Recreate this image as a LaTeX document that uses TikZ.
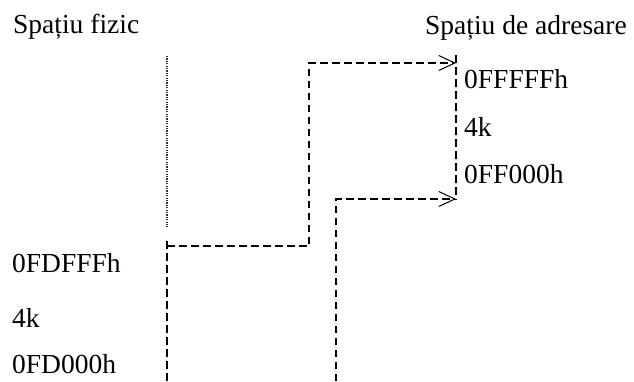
\documentclass[tikz,border=0pt]{standalone}
\usepackage{fontspec}
\setmainfont{Liberation Serif}
\usetikzlibrary{arrows.meta}

\begin{document}
\begin{tikzpicture}[x=1pt, y=-1pt,
  txt/.style={anchor=base west, inner sep=0pt,
              font=\fontsize{27.5}{33}\selectfont},
  link/.style={line width=1.5pt, dash pattern=on 7.5pt off 4.5pt},
  mapto/.style={link, -{Straight Barb[length=16pt, width=15pt, line width=1pt]}},
  bound/.style={line width=1.1pt, black!80, dash pattern=on 1.2pt off 1.2pt},
]
  \useasboundingbox (0,0) rectangle (634,381);

  % Titles
  \node[txt] (fizic) at (13,33) {Spațiu fizic};
  \node[txt] (adr)   at (425,34) {Spațiu de adresare};

  % Physical page labels
  \node[txt] (fTop) at (12,272) {0FDFFFh};
  \node[txt] (fLen) at (12,327) {4k};
  \node[txt] (fBot) at (12,373) {0FD000h};

  % Address window labels
  \node[txt] (aTop) at (464,88)  {0FFFFFh};
  \node[txt] (aLen) at (464,136) {4k};
  \node[txt] (aBot) at (464,183) {0FF000h};

  % Corners of the mapping
  \coordinate (physTop) at (167,246);
  \coordinate (physBot) at (336,381);
  \coordinate (bendTop) at (309,246);
  \coordinate (winTop)  at (456,63);
  \coordinate (winBot)  at (456,199);

  % Region bounds
  \draw[bound] (167,56) -- (167,227);
  \draw[link]  (167,241) -- (167,381);
  \draw[link]  (456,55) -- (456,200);

  % Mapping arrows
  \draw[mapto] (physTop) -- (bendTop) |- (winTop);
  \draw[mapto] (physBot) |- (winBot);
\end{tikzpicture}
\end{document}
